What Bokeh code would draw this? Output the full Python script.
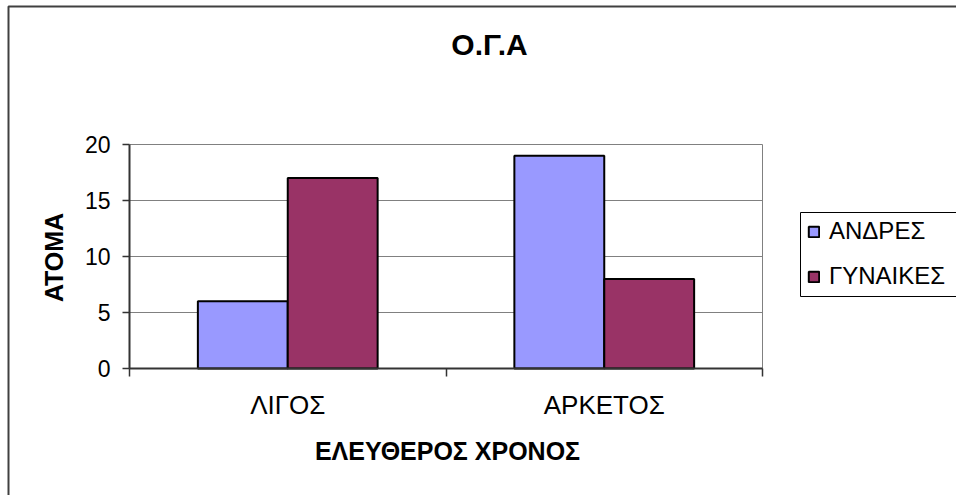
from bokeh.plotting import figure
from bokeh.models import Range1d, FixedTicker, Legend, LegendItem, Label
from bokeh.embed import file_html
from bokeh.resources import INLINE
import math

# ---- data ----
categories = ["ΛΙΓΟΣ", "ΑΡΚΕΤΟΣ"]
series_names = ["ΑΝΔΡΕΣ", "ΓΥΝΑΙΚΕΣ"]
andres = [6, 19]
gynaikes = [17, 8]
y_ticks = [0, 5, 10, 15, 20]

title_text = "Ο.Γ.Α"
x_title = "ΕΛΕΥΘΕΡΟΣ ΧΡΟΝΟΣ"
y_title = "ΑΤΟΜΑ"

# ---- layout (pixels) ----
W, H = 956, 495
PLOT_L, PLOT_R, PLOT_T, PLOT_B = 129, 762, 144, 368
LEG_L, LEG_T, LEG_B = 800, 212, 296

FONT = "Liberation Sans"
COLORS = ["#9999FF", "#993366"]
AXIS = "#333333"
GRID = "#808080"

n = len(categories)
y_max = y_ticks[-1]
centers = [i + 0.5 for i in range(n)]
bar_w = 0.284

# the frame fills the whole canvas; ranges are chosen so that the plot
# area [0, n] x [0, y_max] lands on the PLOT_* rectangle
px_x = (PLOT_R - PLOT_L) / n
px_y = (PLOT_B - PLOT_T) / y_max
x_range = Range1d(-PLOT_L / px_x, (W - PLOT_L) / px_x)
y_range = Range1d(-(H - PLOT_B) / px_y, PLOT_B / px_y)


def dx(px):
    return (px - PLOT_L) / px_x


def dy(py):
    return (PLOT_B - py) / px_y


p = figure(width=W, height=H, output_backend="svg", toolbar_location=None,
           x_range=x_range, y_range=y_range, min_border=0,
           background_fill_color="white", border_fill_color="white")
p.outline_line_color = None
p.xgrid.visible = False
p.ygrid.visible = False

# chart border: left and top edges, running off the canvas to the right/bottom
p.line(x=[dx(8), dx(8), dx(W + 20)], y=[dy(H + 20), dy(6), dy(6)],
       line_color="#404040", line_width=2)

# horizontal gridlines and the right edge of the plot area
p.segment(x0=[0] * len(y_ticks), x1=[n] * len(y_ticks), y0=y_ticks, y1=y_ticks,
          line_color=GRID, line_width=1)
p.segment(x0=[n], x1=[n], y0=[0], y1=[y_max], line_color=GRID, line_width=1)

# bars
r1 = p.vbar(x=[c - bar_w / 2 for c in centers], top=andres, width=bar_w, bottom=0,
            fill_color=COLORS[0], line_color="black", line_width=2)
r2 = p.vbar(x=[c + bar_w / 2 for c in centers], top=gynaikes, width=bar_w, bottom=0,
            fill_color=COLORS[1], line_color="black", line_width=2)

# y axis pinned at x = 0
p.yaxis.fixed_location = 0
p.yaxis.bounds = (0, y_max)
p.yaxis.ticker = FixedTicker(ticks=y_ticks)
p.yaxis.axis_line_color = AXIS
p.yaxis.axis_line_width = 2
p.yaxis.major_tick_line_color = AXIS
p.yaxis.major_tick_line_width = 1.5
p.yaxis.major_tick_in = 0
p.yaxis.major_tick_out = 7
p.yaxis.minor_tick_line_color = None
p.yaxis.major_label_standoff = 12
p.yaxis.major_label_text_font = FONT
p.yaxis.major_label_text_font_size = "23px"
p.yaxis.major_label_text_color = "black"

# x axis pinned at y = 0: labels at category centres, ticks at boundaries
p.xaxis.fixed_location = 0
p.xaxis.bounds = (0, n)
p.xaxis.ticker = FixedTicker(ticks=centers, minor_ticks=list(range(n + 1)))
p.xaxis.major_label_overrides = {c: lab for c, lab in zip(centers, categories)}
p.xaxis.axis_line_color = AXIS
p.xaxis.axis_line_width = 2
p.xaxis.major_tick_line_color = None
p.xaxis.major_tick_in = 0
p.xaxis.major_tick_out = 0
p.xaxis.minor_tick_line_color = AXIS
p.xaxis.minor_tick_line_width = 1.5
p.xaxis.minor_tick_in = 0
p.xaxis.minor_tick_out = 8
p.xaxis.major_label_standoff = 13
p.xaxis.major_label_text_font = FONT
p.xaxis.major_label_text_font_size = "26px"
p.xaxis.major_label_text_color = "black"

# legend box (open to the right, it runs past the canvas edge)
p.quad(left=[dx(LEG_L)], right=[dx(W + 20)], top=[dy(LEG_T)], bottom=[dy(LEG_B)],
       fill_color="white", line_color=None)
p.line(x=[dx(W + 20), dx(LEG_L), dx(LEG_L), dx(W + 20)],
       y=[dy(LEG_T), dy(LEG_T), dy(LEG_B), dy(LEG_B)],
       line_color="black", line_width=1)

legend = Legend(items=[LegendItem(label=series_names[0], renderers=[r1]),
                       LegendItem(label=series_names[1], renderers=[r2])],
                location=(LEG_L + 7, H - LEG_B + 6), margin=0, padding=6, spacing=17,
                glyph_width=13, glyph_height=13, label_height=25,
                label_standoff=9, label_text_font=FONT,
                label_text_font_size="24px", label_text_color="black",
                border_line_color=None, background_fill_alpha=0)
p.add_layout(legend)

# titles
p.add_layout(Label(x=489, y=H - 44, x_units="screen", y_units="screen",
                   text=title_text, text_font=FONT, text_font_size="30px",
                   text_font_style="bold", text_align="center",
                   text_baseline="middle", text_color="black"))
p.add_layout(Label(x=447, y=H - 450, x_units="screen", y_units="screen",
                   text=x_title, text_font=FONT, text_font_size="25px",
                   text_font_style="bold", text_align="center",
                   text_baseline="middle", text_color="black"))
p.add_layout(Label(x=53, y=H - 257, x_units="screen", y_units="screen",
                   text=y_title, text_font=FONT, text_font_size="25px",
                   text_font_style="bold", text_align="center",
                   text_baseline="middle", angle=math.pi / 2, text_color="black"))

open("out.html", "w").write(file_html(p, INLINE))
